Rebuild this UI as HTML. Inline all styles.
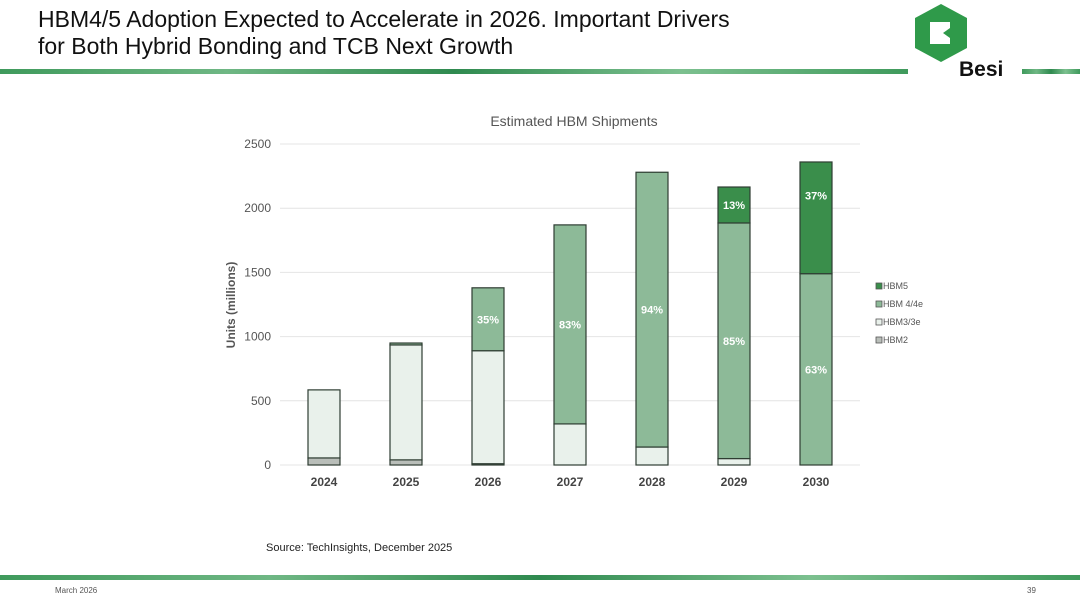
<!DOCTYPE html>
<html><head><meta charset="utf-8"><style>
body{margin:0;width:1080px;height:601px;background:#fff;overflow:hidden;font-family:"Liberation Sans",sans-serif;position:relative}
.t{position:absolute;left:38px;top:6px;font-size:23px;line-height:27px;color:#111}
.rule{position:absolute;height:5px;background:linear-gradient(90deg,#3f9a5c,#6fb784,#2f8a4f,#7cc08f,#3f9a5c)}
</style></head><body>
<div class="t">HBM4/5 Adoption Expected to Accelerate in 2026. Important Drivers<br>for Both Hybrid Bonding and TCB Next Growth</div>
<div class="rule" style="left:0;top:69px;width:908px"></div>
<div class="rule" style="left:1022px;top:69px;width:58px"></div>
<svg style="position:absolute;left:910px;top:0" width="110" height="82">
<polygon points="31,4 57,18 57,48 31,62 5,48 5,18" fill="#2f9a4a"/>
<polygon points="20,22 40,22 40,28 33,33 40,38 40,44 20,44" fill="#fff"/>
<text x="49" y="76" font-size="21" font-weight="bold" fill="#111" font-family="Liberation Sans,sans-serif">Besi</text>
</svg>
<div class="rule" style="left:0;top:575px;width:1080px"></div>
<div style="position:absolute;left:55px;top:586px;font-size:8px;color:#555">March 2026</div>
<div style="position:absolute;left:1027px;top:586px;font-size:8px;color:#555">39</div>
<div style="position:absolute;left:266px;top:542px;font-size:11px;color:#222">Source: TechInsights, December 2025</div>
<svg id="c" style="position:absolute;left:0;top:0" width="1080" height="601"></svg>
<script>
const years=["2024","2025","2026","2027","2028","2029","2030"];
const hbm2=[55,40,10,0,0,0,0];
const hbm3=[530,895,880,320,140,50,0];
const hbm4=[0,15,490,1550,2140,1835,1490];
const hbm5=[0,0,0,0,0,280,870];
const pct4=["","","35%","83%","94%","85%","63%"];
const pct5=["","","","","","13%","37%"];
const yTicks=[0,500,1000,1500,2000,2500];
const series=[["HBM2",hbm2,"#b9beb9"],["HBM3/3e",hbm3,"#e9f1eb"],["HBM 4/4e",hbm4,"#8dba98"],["HBM5",hbm5,"#3a8e4b"]];
const NS="http://www.w3.org/2000/svg",svg=document.getElementById("c");
const y=v=>465-v*321/2500, x=i=>324+i*82, bw=32;
function mk(t,a,txt){const e=document.createElementNS(NS,t);for(const k in a)e.setAttribute(k,a[k]);if(txt!=null)e.textContent=txt;svg.appendChild(e);return e;}
let e=mk("text",{x:574,y:126,"font-size":14,fill:"#555","text-anchor":"middle"},"Estimated HBM Shipments");


yTicks.forEach(v=>{
 let g=mk("line",{x1:280,x2:860,y1:y(v),y2:y(v),stroke:"#e4e4e4"});
 
 
 let t=mk("text",{x:271,y:y(v)+4,"font-size":12,fill:"#555","text-anchor":"end"},v);
 
 
});
e=mk("text",{x:0,y:0,"font-size":12,"font-weight":"bold",fill:"#555","text-anchor":"middle",transform:"translate(235,305) rotate(-90)"},"Units (millions)");


years.forEach((yr,i)=>{
 let base=0;
 series.forEach(([n,arr,c])=>{const v=arr[i];if(v<=0)return;
  let r=mk("rect",{x:x(i)-bw/2,y:y(base+v),width:bw,height:v*321/2500,fill:c,stroke:"#2e3d32","stroke-width":1.2});
  
  
  base+=v;});
 const b4=hbm2[i]+hbm3[i];
 if(pct4[i]){let t=mk("text",{x:x(i),y:y(b4+hbm4[i]/2)+4,"font-size":11,"font-weight":"bold",fill:"#fff","text-anchor":"middle"},pct4[i]);
  
  }
 if(pct5[i]){let t=mk("text",{x:x(i),y:y(b4+hbm4[i]+hbm5[i]*(hbm5[i]>500?0.7:0.5))+4,"font-size":11,"font-weight":"bold",fill:"#fff","text-anchor":"middle"},pct5[i]);
  
  }
 let t=mk("text",{x:x(i),y:486,"font-size":12,"font-weight":"bold",fill:"#444","text-anchor":"middle"},yr);
 
 
});
[...series].reverse().forEach(([n,arr,c],k)=>{
 const yy=286+k*18;
 let r=mk("rect",{x:876,y:yy-3,width:6,height:6,fill:c,stroke:"#555","stroke-width":0.8});
 
 
 let t=mk("text",{x:883,y:yy+3,"font-size":9,fill:"#555"},n);
 
 
});
</script>
</body></html>
